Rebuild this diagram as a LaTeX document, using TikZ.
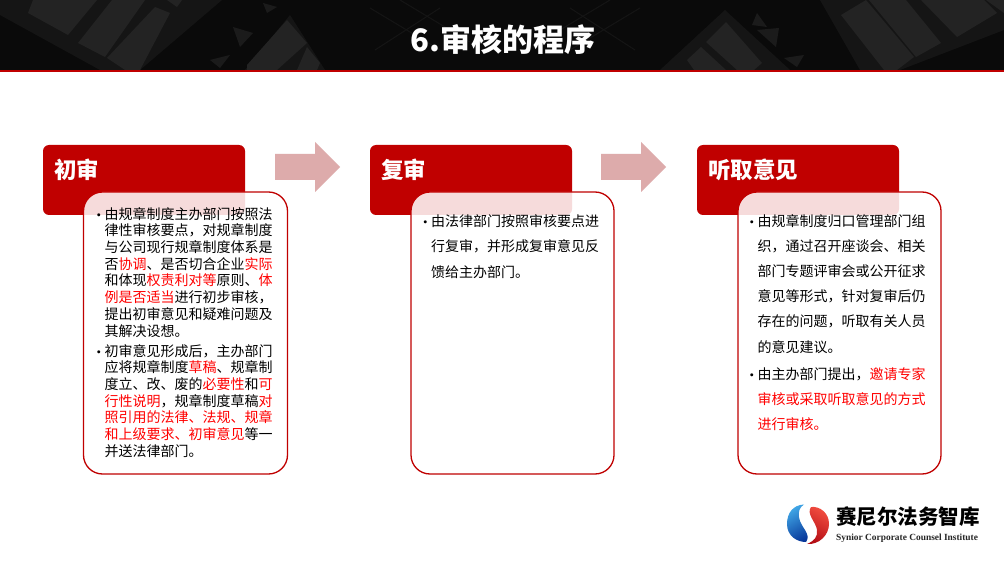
\documentclass[tikz,border=0pt]{standalone}
\usepackage{fontspec}
\setmainfont{Noto Sans CJK SC}
\newfontfamily\logoserif{Liberation Serif}
\definecolor{brandred}{HTML}{C00000}
\definecolor{hl}{HTML}{FF0000}
\definecolor{pale}{HTML}{DDABAB}
\definecolor{paneA}{HTML}{232323}
\definecolor{paneB}{HTML}{151515}
\definecolor{paneC}{HTML}{0A0A0A}
\definecolor{ornament}{HTML}{1B1B1B}
\definecolor{logoBlueA}{HTML}{40A6E6}
\definecolor{logoBlueB}{HTML}{08389A}
\definecolor{logoRedA}{HTML}{F24D40}
\definecolor{logoRedB}{HTML}{B30D14}
\newcommand{\hot}[1]{\textcolor{hl}{#1}}
\newcommand{\bul}{\makebox[0pt][r]{\fontsize{11}{11}\selectfont\bfseries •\hspace{0.3pt}}}
\tikzset{
  header/.style={fill=brandred,rounded corners=6pt,draw=none},
  panel/.style={fill=white,fill opacity=.86,draw=brandred,line width=1.3pt,rounded corners=19pt},
  headtext/.style={text=white,font=\fontsize{22.5}{24}\selectfont\bfseries,anchor=west,inner sep=0pt},
  bodytext/.style={anchor=north west,inner sep=0pt,align=left,text=black},
  flow/.style={fill=pale,draw=none},
  pane/.style={fill=paneA,draw=none},
  paneb/.style={fill=paneB,draw=none},
  orn/.style={fill=ornament,draw=none},
  grid/.style={draw=paneB,line width=1pt},
}
\begin{document}
\begin{tikzpicture}[x=1pt,y=-1pt]
\useasboundingbox (0,0) rectangle (1004,564);
\fill[white] (0,0) rectangle (1004,564);
% header band
\fill[paneC] (0,0) rectangle (1004,70);
\fill[paneb] (0,0) -- (222,0) -- (140,70) -- (100,70) -- (0,15) -- cycle;
\fill[paneb] (820,0) -- (1004,0) -- (1004,30) -- (900,70) -- (860,70) -- cycle;
\fill[paneb] (660,70) -- (725,10) -- (790,70) -- cycle;
\fill[paneb] (245,70) -- (290,15) -- (325,70) -- cycle;
% left windows
\fill[pane] (33,0) -- (97,0) -- (68,35) -- (28,13) -- cycle;
\fill[pane] (112,0) -- (145,0) -- (105,57) -- (78,43) -- cycle;
\fill[pane] (155,7) -- (170,13) -- (140,70) -- (125,70) -- (107,58) -- cycle;
\fill[pane] (167,0) -- (182,0) -- (177,7) -- cycle;
\fill[pane] (287,20) -- (307,43) -- (277,70) -- (247,70) -- (247,65) -- cycle;
\fill[pane] (307,47) -- (320,63) -- (317,70) -- (297,70) -- cycle;
\fill[orn] (233,27) -- (253,33) -- (240,47) -- cycle;
\fill[orn] (263,3) -- (277,7) -- (267,13) -- cycle;
\fill[orn] (210,60) -- (230,55) -- (220,68) -- cycle;
% right windows
\fill[pane] (841,15) -- (866,0) -- (914,57) -- (897,70) -- (884,70) -- cycle;
\fill[pane] (869,0) -- (906,0) -- (941,43) -- (916,57) -- cycle;
\fill[pane] (921,0) -- (984,0) -- (997,13) -- (957,37) -- cycle;
\fill[pane] (986,0) -- (1004,0) -- (1004,13) -- cycle;
\fill[pane] (706,42) -- (726,22) -- (762,63) -- (754,70) -- (737,70) -- cycle;
\fill[pane] (687,60) -- (701,47) -- (726,70) -- (694,70) -- cycle;
\fill[orn] (752,25) -- (767,27) -- (757,13) -- cycle;
\fill[orn] (757,30) -- (779,28) -- (776,47) -- cycle;
\fill[orn] (784,58) -- (804,55) -- (797,67) -- cycle;
% centre ceiling lines
\draw[grid] (370,8) -- (440,50);
\draw[grid] (400,0) -- (470,42);
\draw[grid] (640,8) -- (570,50);
\draw[grid] (610,0) -- (540,42);
\draw[grid] (375,50) -- (440,8);
\draw[grid] (635,50) -- (570,8);
\fill[brandred] (0,70) rectangle (1004,72);
\node[font=\fontsize{31}{34}\selectfont\bfseries,text=white,inner sep=0pt] (title) at (503,40) {6.审核的程序};
% flow arrows
\fill[flow] (275,154) -- (315,154) -- (315,142) -- (340,167) -- (315,192) -- (315,180) -- (275,180) -- cycle;
\fill[flow] (601,154) -- (641,154) -- (641,142) -- (666,167) -- (641,192) -- (641,180) -- (601,180) -- cycle;
% headers
\node[header,minimum width=202pt,minimum height=70pt,inner sep=0pt] (h1) at (144,180) {};
\node[header,minimum width=202pt,minimum height=70pt,inner sep=0pt] (h2) at (471,180) {};
\node[header,minimum width=202pt,minimum height=70pt,inner sep=0pt] (h3) at (798,180) {};
\node[headtext] (t1) at (54,170) {初审};
\node[headtext] (t2) at (381,170) {复审};
\node[headtext] (t3) at (708,170) {听取意见};
% panels
\node[panel,minimum width=204pt,minimum height=282pt,inner sep=0pt] (p1) at (185.5,333) {};
\node[panel,minimum width=203pt,minimum height=282pt,inner sep=0pt] (p2) at (512.5,333) {};
\node[panel,minimum width=203pt,minimum height=282pt,inner sep=0pt] (p3) at (839.5,333) {};
% panel text
\node[bodytext,font=\fontsize{14}{16.7}\selectfont] (b1) at (104.5,207) {%
\bul 由规章制度主办部门按照法\\
律性审核要点，对规章制度\\
与公司现行规章制度体系是\\
否\hot{协调}、是否切合企业\hot{实际}\\
和体现\hot{权责利对等}原则、\hot{体}\\
\hot{例是否适当}进行初步审核，\\
提出初审意见和疑难问题及\\
其解决设想。\\[3.3pt]
\bul 初审意见形成后，主办部门\\
应将规章制度\hot{草稿}、规章制\\
度立、改、废的\hot{必要性}和\hot{可}\\
\hot{行性说明}，规章制度草稿\hot{对}\\
\hot{照引用的法律、法规、规章}\\
\hot{和上级要求、初审意见}等一\\
并送法律部门。};
\node[bodytext,font=\fontsize{14}{25.5}\selectfont] (b2) at (431,214) {%
\bul 由法律部门按照审核要点进\\
行复审，并形成复审意见反\\
馈给主办部门。};
\node[bodytext,font=\fontsize{14}{25.2}\selectfont] (b3) at (757.5,214) {%
\bul 由规章制度归口管理部门组\\
织，通过召开座谈会、相关\\
部门专题评审会或公开征求\\
意见等形式，针对复审后仍\\
存在的问题，听取有关人员\\
的意见建议。\\[2pt]
\bul 由主办部门提出，\hot{邀请专家}\\
\hot{审核或采取听取意见的方式}\\
\hot{进行审核。}};
% logo
\shade[top color=logoBlueA,bottom color=logoBlueB,shading angle=30]
  (804,504.5) .. controls (793,505) and (787,513) .. (787,524) .. controls (787,536) and (797,542) .. (806,542) .. controls (812,534) and (800,527) .. (799,517) .. controls (798,511) and (800,507) .. (804,504.5) -- cycle;
\shade[top color=logoRedA,bottom color=logoRedB,shading angle=-30]
  (807,544) .. controls (819,545) and (829,535) .. (829,524) .. controls (829,513) and (820,506) .. (811,507) .. controls (806,514) and (816,522) .. (817,530) .. controls (818,537) and (814,541) .. (807,544) -- cycle;
\node[font=\fontsize{20.5}{22}\selectfont\bfseries,text=black,inner sep=0pt,anchor=west] (logo) at (836,517) {赛尼尔法务智库};
\node[font=\logoserif\fontsize{9.4}{11}\selectfont\bfseries,text=black!85,inner sep=0pt,anchor=west] (logoen) at (836,538) {Synior Corporate Counsel Institute};
\end{tikzpicture}
\end{document}
